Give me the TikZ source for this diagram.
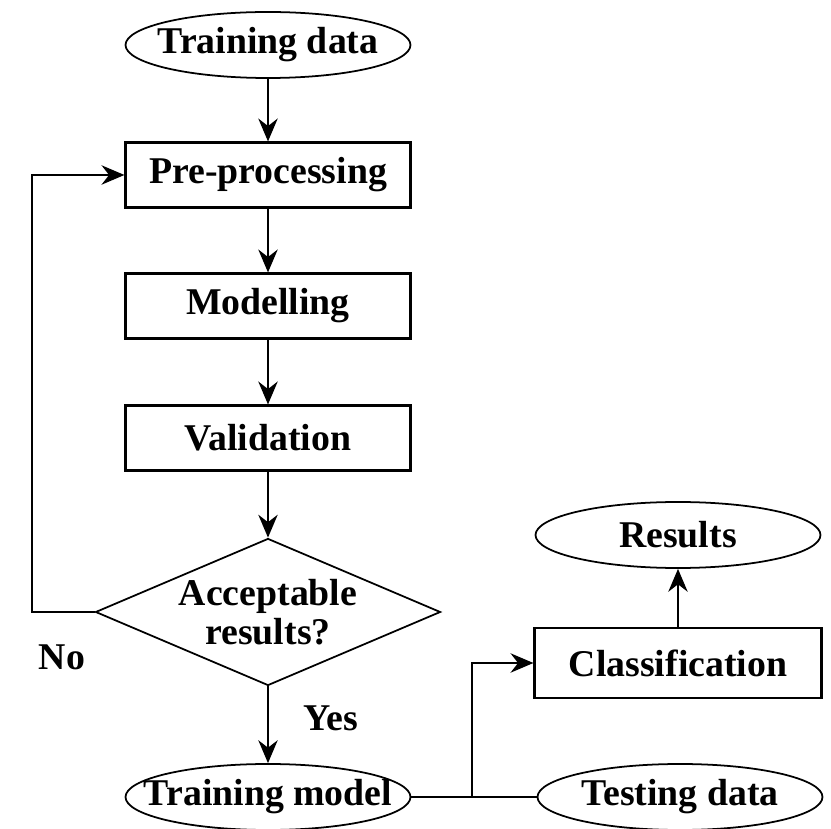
\documentclass[tikz,border=0pt]{standalone}
\usepackage{fontspec}
\setmainfont{Liberation Serif}
\usetikzlibrary{shapes.geometric,arrows.meta}

\begin{document}
\begin{tikzpicture}[
    font=\fontsize{21.5}{22}\selectfont\bfseries,
    line width=1.2pt,
    >={Stealth[length=13pt, width=11pt]},
    procbox/.style={draw, rectangle, minimum width=5.7cm, minimum height=1.3cm, inner sep=0pt},
    termbox/.style={draw, ellipse, minimum width=5.7cm, minimum height=1.32cm, inner sep=0pt, line width=1pt, label=center:{#1}},
    decbox/.style={draw, diamond, minimum width=6.9cm, minimum height=2.94cm, inner sep=0pt, line width=1pt, label={[align=center]center:#1}}
  ]
  \useasboundingbox (0,0) rectangle (16.62,16.56);

  % Training chain
  \node[termbox=Training data] (tdata) at (5.36, 15.66) {};
  \node[procbox] (prep) at (5.36, 13.06) {Pre-processing};
  \node[procbox] (model) at (5.36, 10.44) {Modelling};
  \node[procbox] (valid) at (5.36, 7.80) {Validation};
  \node[decbox={Acceptable\\results?}] (accept) at (5.36, 4.32) {};
  \node[termbox=Training model] (tmodel) at (5.36, 0.62) {};

  % Testing side
  \node[termbox=Results] (res) at (13.56, 5.86) {};
  \node[procbox, minimum width=5.74cm, minimum height=1.4cm] (clas) at (13.56, 3.30) {Classification};
  \node[termbox=Testing data] (tsdata) at (13.60, 0.62) {};

  % Labels
  \node (no) at (1.24, 3.42) {No};
  \node (yes) at (6.62, 2.20) {Yes};

  % Arrows
  \draw[->] (tdata) -- (prep);
  \draw[->] (prep) -- (model);
  \draw[->] (model) -- (valid);
  \draw[->] (valid) -- (accept);
  \draw[->] (accept) -- (tmodel);
  \coordinate (loop) at (0.64, 4.32);
  \draw[->] (accept.west) -- (loop) |- (prep.west);

  \coordinate (join) at (9.44, 0.62);
  \draw (tmodel.east) -- (tsdata.west);
  \draw[->] (join) |- (clas.west);
  \draw[->] (clas) -- (res);
\end{tikzpicture}
\end{document}
